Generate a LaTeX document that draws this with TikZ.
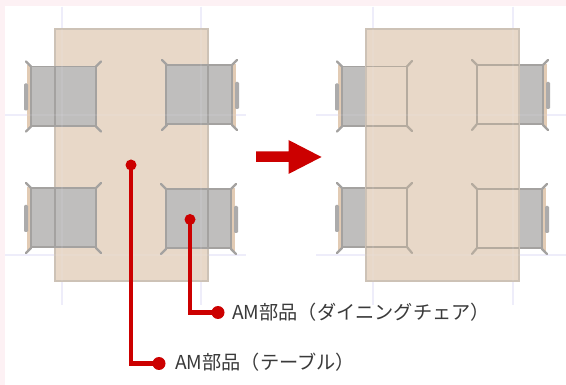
\documentclass[tikz,border=0pt]{standalone}
\usepackage{fontspec}
\newfontfamily\cjk{Noto Sans CJK JP}
\definecolor{pagepink}{HTML}{FDF1F4}
\definecolor{tablefill}{HTML}{E8D8C8}
\definecolor{tableedge}{HTML}{CDC2B6}
\definecolor{seatfill}{HTML}{BFBEBD}
\definecolor{seatedge}{HTML}{A4A2A0}
\definecolor{seatline}{HTML}{B5AB9F}
\definecolor{gridline}{HTML}{EEEDFA}
\definecolor{leader}{HTML}{CC0000}
\definecolor{labeltext}{HTML}{3A3A3A}
\tikzset{
  x=1pt,y=-1pt,
  gridrule/.style={gridline,line width=1.2pt},
  tablebox/.style={fill=tablefill,draw=tableedge,line width=1.3pt},
  throughline/.style={seatedge,line width=1.2pt},
  seatbox/.style={fill=seatfill,draw=seatedge,line width=1.6pt},
  seatrim/.style={draw=seatline,line width=1.6pt},
  leg/.style={seatedge,line width=2.2pt,line cap=round},
  backstrip/.style={fill=tablefill!85!brown,draw=none},
  backline/.style={seatedge,line width=1.6pt},
  handle/.style={fill=seatfill!70!gray,draw=none,rounded corners=1.2pt},
  wire/.style={leader,line width=4.2pt},
  dotnode/.style={circle,fill=leader,inner sep=0pt,minimum size=13pt},
  topdot/.style={dotnode,minimum size=11pt},
  partlabel/.style={anchor=west,inner sep=0pt,text=labeltext,font=\cjk\fontsize{19.2}{22}\selectfont},
  chairback/.pic={
    \path[backstrip] (-4,-1) rectangle (0,62);
    \draw[backline] (0,0) -- (0,60);
    \draw[handle] (-7,17) rectangle (-3,44);
    \draw[leg] (0,0) -- (-5,-5);
    \draw[leg] (0,60) -- (-5,65);
    \draw[leg] (65,0) -- (70,-5);
    \draw[leg] (65,60) -- (70,65);
  }
}
\begin{document}
\begin{tikzpicture}
\useasboundingbox (0,0) rectangle (566,385);
\fill[white] (0,0) rectangle (566,385);
\fill[pagepink] (0,0) rectangle (566,6.5);
\fill[pagepink] (0,0) rectangle (5,385);
% grid under
\foreach \xx in {62,201,373,513} \draw[gridrule] (\xx,7) -- (\xx,305);
\draw[gridrule] (5,115) -- (246,115);
\draw[gridrule] (5,255) -- (246,255);
\draw[gridrule] (316,115) -- (566,115);
\draw[gridrule] (316,255) -- (566,255);
% left panel
\draw[tablebox] (55,29) rectangle (208,281);
\pic at (31,66.5) {chairback};
\pic at (31,188) {chairback};
\pic[xscale=-1] at (232,65) {chairback};
\pic[xscale=-1] at (231,189) {chairback};
\draw[seatbox] (31,66.5) rectangle (96,126);
\draw[seatbox] (31,188) rectangle (96,247);
\draw[seatbox] (166,65) rectangle (232,124);
\draw[seatbox] (166,189) rectangle (231,248);
\draw[throughline] (55,66.5) -- (55,126);
\draw[throughline] (55,188) -- (55,247);
\draw[throughline] (208,65) -- (208,124);
\draw[throughline] (208,189) -- (208,248);
% right panel
\pic at (342,66.5) {chairback};
\pic at (342,188) {chairback};
\pic[xscale=-1] at (543,65) {chairback};
\pic[xscale=-1] at (542,189) {chairback};
\draw[seatbox] (342,66.5) rectangle (407,126);
\draw[seatbox] (342,188) rectangle (407,247);
\draw[seatbox] (477,65) rectangle (543,124);
\draw[seatbox] (477,189) rectangle (542,248);
\draw[tablebox] (366,29) rectangle (519,281);
\draw[seatrim] (366,66.5) -- (407,66.5) -- (407,126) -- (366,126);
\draw[seatrim] (366,188) -- (407,188) -- (407,247) -- (366,247);
\draw[seatrim] (519,65) -- (477,65) -- (477,124) -- (519,124);
\draw[seatrim] (519,189) -- (477,189) -- (477,248) -- (519,248);
\draw[leg,seatline] (407,66.5) -- (412,61);
\draw[leg,seatline] (407,126) -- (412,131);
\draw[leg,seatline] (407,188) -- (412,183);
\draw[leg,seatline] (407,247) -- (412,253);
\draw[leg,seatline] (477,65) -- (472,60);
\draw[leg,seatline] (477,124) -- (472,130);
\draw[leg,seatline] (477,189) -- (472,184);
\draw[leg,seatline] (477,248) -- (472,254);
% grid over
\begin{scope}[opacity=.1]
\foreach \xx in {62,201,373,513} \draw[gridrule] (\xx,29) -- (\xx,281);
\draw[gridrule] (5,115) -- (246,115);
\draw[gridrule] (5,255) -- (246,255);
\draw[gridrule] (316,115) -- (566,115);
\draw[gridrule] (316,255) -- (566,255);
\end{scope}
% arrow
\fill[leader] (256,151.5) -- (288.5,151.5) -- (288.5,140) -- (321.5,157) -- (288.5,174) -- (288.5,162) -- (256,162) -- cycle;
% leaders
\node[topdot] (tabledot) at (131,165) {};
\node[topdot] (chairdot) at (190,219.5) {};
\node[dotnode] (tableend) at (159,363.5) {};
\node[dotnode] (chairend) at (218,312.5) {};
\coordinate (tablecorner) at (131,363.5);
\coordinate (chaircorner) at (190,312.5);
\draw[wire] (tabledot.center) -- (tablecorner) -- (tableend.center);
\draw[wire] (chairdot.center) -- (chaircorner) -- (chairend.center);
\node[partlabel] (tablelabel) at (175,362) {AM部品（テーブル）};
\node[partlabel] (chairlabel) at (232,312) {AM部品（ダイニングチェア）};
\end{tikzpicture}
\end{document}
